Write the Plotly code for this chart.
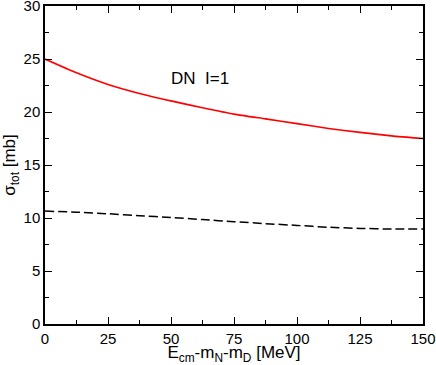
import plotly.graph_objects as go

energy = [0, 12.5, 25, 37.5, 50, 62.5, 75, 87.5, 100, 112.5, 125, 137.5, 150]
sigma_full = [25.0, 23.7, 22.6, 21.75, 21.05, 20.4, 19.8, 19.35, 18.9, 18.45,
              18.08, 17.75, 17.5]
sigma_dash = [10.65, 10.55, 10.4, 10.22, 10.05, 9.85, 9.65, 9.47, 9.3, 9.13,
              9.02, 8.96, 8.97]

FONT = "Liberation Sans, Arial, sans-serif"

fig = go.Figure()
fig.add_trace(go.Scatter(x=energy, y=sigma_full, mode="lines",
                         line=dict(color="#ff0000", width=1.6, shape="spline",
                                   smoothing=0.6)))
fig.add_trace(go.Scatter(x=energy, y=sigma_dash, mode="lines",
                         line=dict(color="#000000", width=1.5, dash="9px,4px",
                                   shape="spline", smoothing=0.6)))

fig.add_annotation(x=61.5, y=23.2, text="DN  I=1", showarrow=False,
                   font=dict(family=FONT, size=17, color="black"))

axis_common = dict(showgrid=False, zeroline=False, showline=True, linecolor="black",
                   linewidth=1.5, mirror="ticks", ticks="inside", ticklen=7,
                   tickwidth=1.2, tickcolor="black", automargin=False,
                   ticklabeloverflow="allow",
                   tickfont=dict(family=FONT, size=15, color="black"))

fig.update_xaxes(range=[0, 150], dtick=25, tick0=0,
                 minor=dict(ticks="inside", ticklen=4, dtick=12.5, tickcolor="black",
                            tickwidth=1.2),
                 title=dict(text="E<sub>cm</sub>-m<sub>N</sub>-m<sub>D</sub> [MeV]",
                            font=dict(family=FONT, size=17, color="black")),
                 **axis_common)
fig.update_yaxes(range=[0, 30], dtick=5, tick0=0,
                 minor=dict(ticks="inside", ticklen=4, dtick=2.5, tickcolor="black",
                            tickwidth=1.2),
                 title=dict(text="σ<sub>tot</sub> [mb]",
                            font=dict(family=FONT, size=17, color="black")),
                 **axis_common)

fig.update_layout(width=436, height=365, showlegend=False,
                  margin=dict(l=45, r=13, t=6, b=41),
                  paper_bgcolor="white", plot_bgcolor="white")

# the page has a default 8px body margin; drop it so the figure fills the window
fig.write_html("out.html", config={"displayModeBar": False},
               post_script="document.body.style.margin='0';")
